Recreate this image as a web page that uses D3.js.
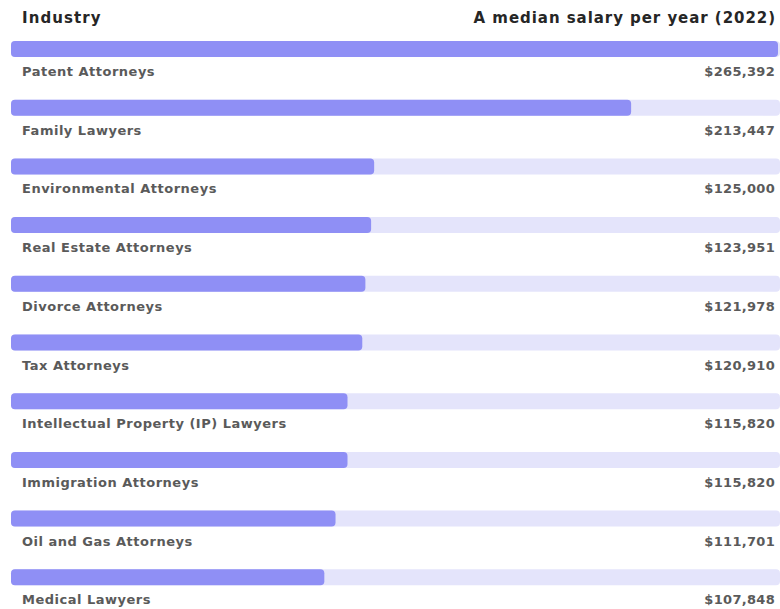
<!DOCTYPE html>
<html><head><meta charset="utf-8">
<script src="https://cdn.jsdelivr.net/npm/d3@7"></script>
<style>
html,body{margin:0;padding:0;background:#fff;}
svg{display:block;}
</style></head>
<body>
<svg id="chart" width="780" height="609"></svg>
<script>
const categories = ["Patent Attorneys","Family Lawyers","Environmental Attorneys","Real Estate Attorneys","Divorce Attorneys","Tax Attorneys","Intellectual Property (IP) Lawyers","Immigration Attorneys","Oil and Gas Attorneys","Medical Lawyers"];
const salaries = [265392,213447,125000,123951,121978,120910,115820,115820,111701,107848];
const salaryLabels = ["$265,392","$213,447","$125,000","$123,951","$121,978","$120,910","$115,820","$115,820","$111,701","$107,848"];
const headers = ["Industry","A median salary per year (2022)"];

const svg = d3.select("#chart");
const left = 11, right = 778;
const font = "'DejaVu Sans', Verdana, sans-serif";

const x = d3.scaleLinear().domain([0, 264000]).range([0, right - left]).clamp(true);
const y = d3.scaleBand().domain(d3.range(categories.length)).range([41, 41 + 58.7 * 10]);

svg.append("text").attr("x", 22).attr("y", 23).text(headers[0])
  .attr("font-family", font).attr("font-weight", 700).attr("font-size", 15).attr("fill", "#262626").attr("letter-spacing", 1.1);
svg.append("text").attr("x", 776).attr("y", 23).attr("text-anchor", "end").text(headers[1])
  .attr("font-family", font).attr("font-weight", 700).attr("font-size", 15).attr("fill", "#262626").attr("letter-spacing", 0.95);

const g = svg.selectAll("g.row").data(categories).join("g").attr("class", "row")
  .attr("transform", (d, i) => `translate(0,${y(i)})`);

g.append("rect").attr("x", left).attr("y", 0).attr("width", right - left + 2).attr("height", 16)
  .attr("rx", 4).attr("fill", "#e4e4fb");
g.append("rect").attr("x", left).attr("y", 0).attr("width", (d, i) => x(salaries[i])).attr("height", 16)
  .attr("rx", 4).attr("fill", "#8f8ff5");
g.append("text").attr("x", 22).attr("y", 35).text(d => d)
  .attr("font-family", font).attr("font-weight", 700).attr("font-size", 13).attr("fill", "#5a5a5a").attr("letter-spacing", 0.5);
g.append("text").attr("x", 775).attr("y", 35).attr("text-anchor", "end").text((d, i) => salaryLabels[i])
  .attr("font-family", font).attr("font-weight", 700).attr("font-size", 13).attr("fill", "#5a5a5a").attr("letter-spacing", 0.3);
</script>
</body></html>
